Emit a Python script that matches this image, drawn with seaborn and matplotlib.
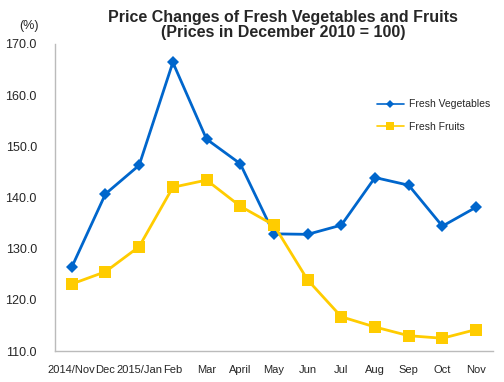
import pandas as pd
import seaborn as sns
import matplotlib
matplotlib.use("Agg")
import matplotlib.pyplot as plt

months = ['2014/Nov', 'Dec', '2015/Jan', 'Feb', 'Mar', 'April', 'May',
          'Jun', 'Jul', 'Aug', 'Sep', 'Oct', 'Nov']
vegetables = [126.4, 140.7, 146.3, 166.4, 151.4, 146.6, 132.9,
              132.8, 134.6, 143.9, 142.4, 134.4, 138.1]
fruits = [123.1, 125.5, 130.4, 142.0, 143.4, 138.3, 134.6,
          123.9, 116.7, 114.7, 113.0, 112.5, 114.2]

df = pd.DataFrame({'idx': range(len(months)), 'veg': vegetables, 'fruit': fruits})

sns.set_style("white")
plt.rcParams['font.family'] = ['Liberation Sans', 'DejaVu Sans']

fig = plt.figure(figsize=(5.04, 3.82), dpi=100)
ax = fig.add_axes([0.109, 0.081, 0.869, 0.804])

sns.lineplot(data=df, x='idx', y='veg', ax=ax, color='#0066CC', lw=2,
             marker='D', markersize=6, markeredgewidth=0, label='Fresh Vegetables')
sns.lineplot(data=df, x='idx', y='fruit', ax=ax, color='#FFCC00', lw=2,
             marker='s', markersize=8, markeredgewidth=0, label='Fresh Fruits')

ax.set_xlim(-0.5, len(months) - 0.5)
ax.set_ylim(110, 170)
ax.set_yticks(range(110, 171, 10))
ax.set_yticklabels([f"{v:.1f}" for v in range(110, 171, 10)], fontsize=9)
ax.set_xticks(range(len(months)))
ax.set_xticklabels(months, fontsize=8)
ax.set_xlabel('')
ax.set_ylabel('')

for s in ['top', 'right']:
    ax.spines[s].set_visible(False)
for s in ['left', 'bottom']:
    ax.spines[s].set_color('#BBBBBB')
    ax.spines[s].set_linewidth(1)
ax.tick_params(axis='y', length=4, color='#BBBBBB', pad=9)
ax.tick_params(axis='x', length=0, pad=10)
ax.grid(False)

leg = ax.legend(loc='upper left', bbox_to_anchor=(0.715, 0.85), frameon=False,
                fontsize=7.5, handlelength=2.5, handletextpad=0.5,
                labelspacing=1.2, markerscale=0.7)
for h in leg.legend_handles:
    h.set_linewidth(1.2)

fig.text(0.562, 0.975, 'Price Changes of Fresh Vegetables and Fruits\n(Prices in December 2010 = 100)',
         ha='center', va='top', fontsize=11.5, fontweight='bold', linespacing=1.0)
fig.text(0.058, 0.932, '(%)', ha='center', va='center', fontsize=9)

fig.savefig('out.png', dpi=100)
